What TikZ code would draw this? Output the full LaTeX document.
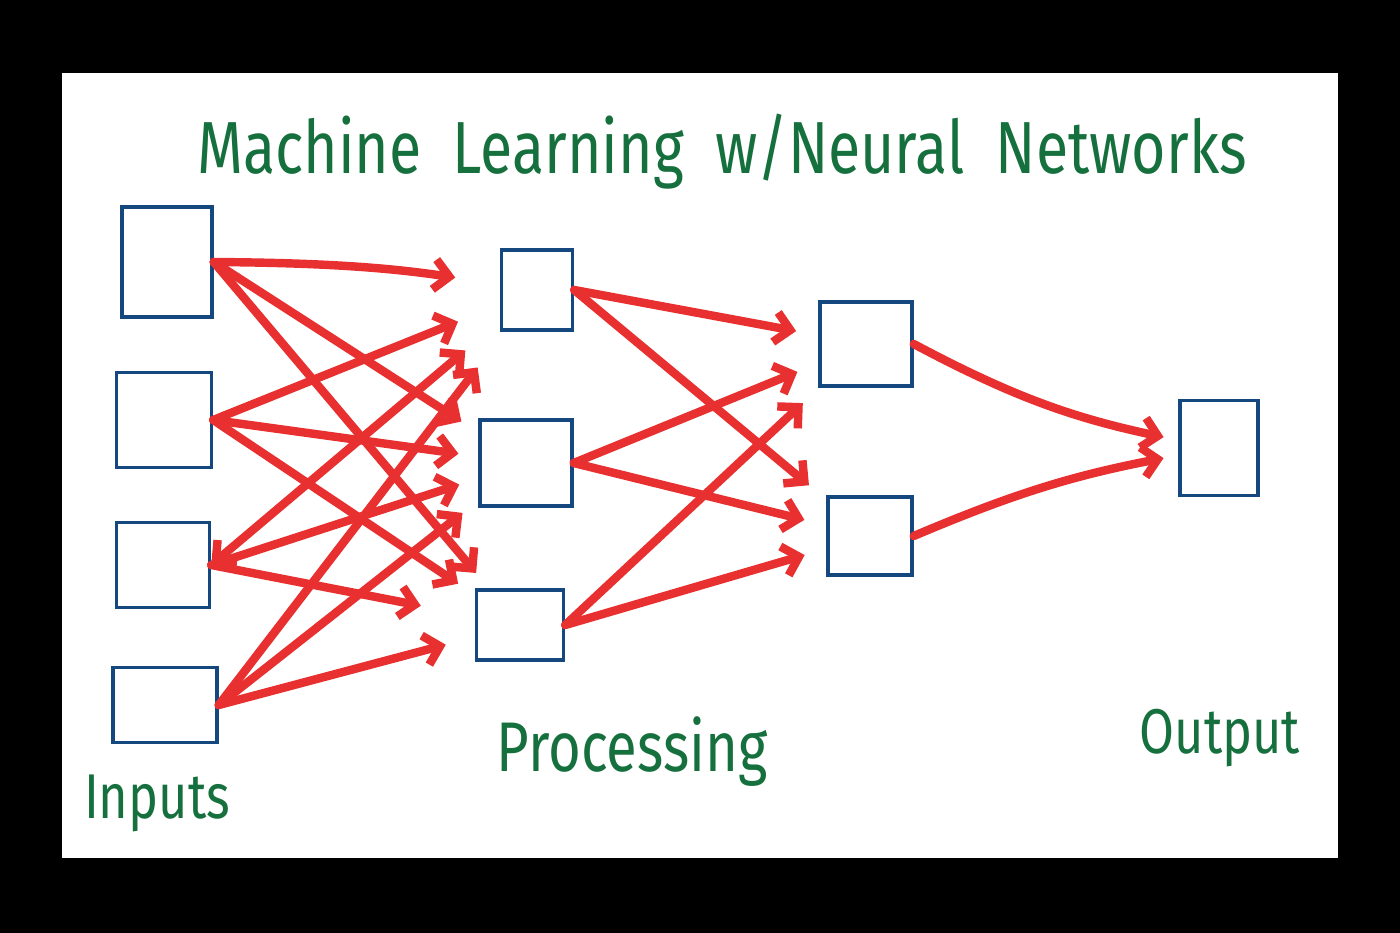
\documentclass[tikz,border=0pt]{standalone}
\usepackage{fontspec}
\setmainfont{Fira Sans}
\newfontfamily\handfont[FakeStretch=0.8]{Fira Sans}
\usetikzlibrary{arrows.meta,positioning}
\definecolor{boxblue}{RGB}{22,72,128}
\definecolor{wirered}{RGB}{233,48,48}
\definecolor{inkgreen}{RGB}{22,112,62}
\tikzset{
  neuron/.style={
    rectangle,
    draw=boxblue,
    line width=2pt,
    inner sep=0pt,
  },
  wire/.style={
    wirered,
    line width=4.8pt,
    line cap=round,
    -{Straight Barb[length=0.3cm,width=0.6cm]},
  },
  handtext/.style={
    font=\handfont\fontsize{36}{40}\selectfont,
    text=inkgreen,
    inner sep=0pt,
  },
}

\begin{document}
\begin{tikzpicture}[x=0.02cm,y=-0.02cm]
% frame
\fill[black] (0,0) rectangle (1400,933);
\fill[white] (62,73) rectangle (1338,858);

% input layer
\node[neuron,minimum width=1.8cm,minimum height=2.2cm] (I1) at (167,262) {};
\node[neuron,minimum width=1.9cm,minimum height=1.9cm] (I2) at (164,420) {};
\node[neuron,minimum width=1.86cm,minimum height=1.7cm] (I3) at (163,565) {};
\node[neuron,minimum width=2.08cm,minimum height=1.5cm] (I4) at (165,705) {};
% processing layers
\node[neuron,minimum width=1.42cm,minimum height=1.6cm] (H1) at (537,290) {};
\node[neuron,minimum width=1.84cm,minimum height=1.72cm] (H2) at (526,463) {};
\node[neuron,minimum width=1.74cm,minimum height=1.4cm] (H3) at (520,625) {};
\node[neuron,minimum width=1.84cm,minimum height=1.68cm] (J1) at (866,344) {};
\node[neuron,minimum width=1.68cm,minimum height=1.56cm] (J2) at (870,536) {};
% output
\node[neuron,minimum width=1.56cm,minimum height=1.9cm] (out) at (1219,448) {};

% labels
\node[handtext,font=\handfont\fontsize{42}{48}\selectfont] (title) at (722,152)
  {Machine\ \ Learning\ \ w/Neural\ \ Networks};
\node[handtext] (inputs) at (157,803) {Inputs};
\node[handtext,font=\handfont\fontsize{40}{44}\selectfont] (proc) at (632,752) {Processing};
\node[handtext] (outlbl) at (1220,738) {Output};

% connections
\begin{scope}[wire]
\draw[shorten >=0.9cm, bend left=4] (I1.east) to (H1);
\draw[shorten >=0.9cm] (I2.east) -- (H1);
\draw[shorten >=0.9cm, {Straight Barb[length=0.3cm,width=0.6cm]}-{Straight Barb[length=0.3cm,width=0.6cm]}] (I3.east) -- (H1);
\draw[shorten >=0.9cm] (I4.east) -- (H1);
\draw[shorten >=0.4cm] (I1.east) -- (H2);
\draw[shorten >=0.4cm] (I2.east) -- (H2);
\draw[shorten >=0.4cm] (I3.east) -- (H2);
\draw[shorten >=0.4cm] (I4.east) -- (H2);
\draw[shorten >=0.4cm] (I1.east) -- (H3);
\draw[shorten >=0.4cm] (I2.east) -- (H3);
\draw[shorten >=1.1cm] (I3.east) -- (H3);
\draw[shorten >=0.6cm] (I4.east) -- (H3);

\draw[shorten >=0.45cm] (H1.east) -- (J1);
\draw[shorten >=0.45cm] (H1.east) -- (J2);
\draw[shorten >=0.45cm] (H2.east) -- (J1);
\draw[shorten >=0.45cm] (H2.east) -- (J2);
\draw[shorten >=0.45cm] (H3.east) -- (J1);
\draw[shorten >=0.45cm] (H3.east) -- (J2);

\draw[shorten >=0.3cm, bend right=8] (J1.east) to (out);
\draw[shorten >=0.3cm, bend left=6] (J2.east) to (out);
\end{scope}
\end{tikzpicture}
\end{document}
